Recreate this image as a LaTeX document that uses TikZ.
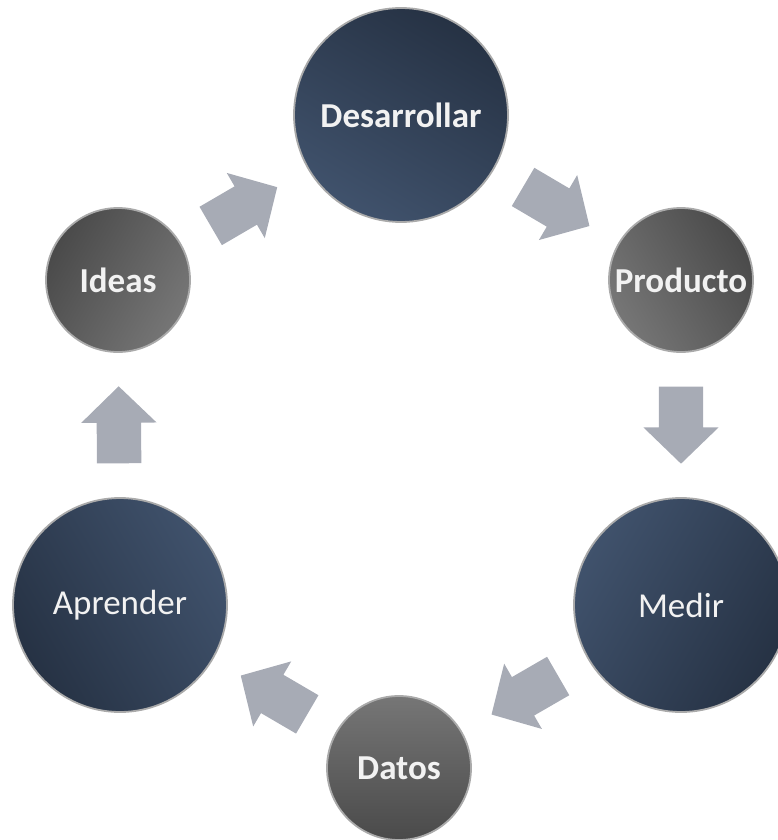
\documentclass[tikz,border=0pt]{standalone}
\usepackage{fontspec}
\setmainfont{Carlito}
\usetikzlibrary{shapes.arrows}
\definecolor{navydark}{RGB}{38,50,68}
\definecolor{navylight}{RGB}{64,82,108}
\definecolor{greydark}{RGB}{74,74,74}
\definecolor{greylight}{RGB}{118,118,118}
\definecolor{ringgrey}{RGB}{170,170,170}
\definecolor{arrowfill}{RGB}{167,171,181}
\definecolor{labelwhite}{RGB}{242,242,242}
\tikzset{
  bigstage/.style={circle, minimum size=214pt, inner sep=0pt, draw=ringgrey, line width=1.8pt,
    top color=navydark, bottom color=navylight, text=labelwhite, font=\fontsize{35}{40}\selectfont},
  smallstage/.style={circle, minimum size=144pt, inner sep=0pt, draw=ringgrey, line width=1.8pt,
    top color=greydark, bottom color=greylight, text=labelwhite, font=\fontsize{35}{40}\selectfont\bfseries},
  % block arrow, 77pt long, tail placed so that the arrow is centred in the gap
  flowarrow/.style={single arrow, draw=none, fill=arrowfill, inner xsep=0pt, inner ysep=22pt,
    minimum height=77pt, minimum width=0pt, single arrow head extend=15.5pt,
    single arrow tip angle=92, sloped, allow upside down, anchor=tail, pos=0.233},
}
\begin{document}
\begin{tikzpicture}[x=1pt,y=-1pt]
  \useasboundingbox (0,0) rectangle (778,840);
  % stages of the cycle
  \node[bigstage, font=\fontsize{35}{40}\selectfont\bfseries, shading angle=-30] (desarrollar) at (401,115) {Desarrollar};
  \node[smallstage, shading angle=-60] (producto) at (681,280) {Producto};
  \node[bigstage, shading angle=-120] (medir) at (681,605) {Medir};
  \node[smallstage, shading angle=180] (datos) at (399,768) {Datos};
  \node[bigstage, shading angle=120] (aprender) at (120,605) {Aprender};
  \node[smallstage, shading angle=60] (ideas) at (118,280) {Ideas};
  % block arrows between consecutive stages
  \path (ideas) -- node[flowarrow] (a1) {} (desarrollar);
  \path (desarrollar) -- node[flowarrow] (a2) {} (producto);
  \path (producto) -- node[flowarrow] (a3) {} (medir);
  \path (medir) -- node[flowarrow] (a4) {} (datos);
  \path (datos) -- node[flowarrow] (a5) {} (aprender);
  \path (aprender) -- node[flowarrow] (a6) {} (ideas);
\end{tikzpicture}
\end{document}
